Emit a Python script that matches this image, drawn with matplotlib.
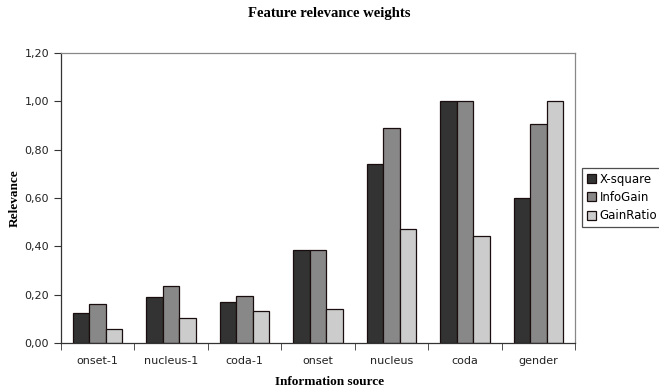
import matplotlib
matplotlib.use("Agg")
import matplotlib.pyplot as plt
import numpy as np
from matplotlib.ticker import FixedLocator, FuncFormatter

categories = ["onset-1", "nucleus-1", "coda-1", "onset", "nucleus", "coda", "gender"]
x_square = [0.125, 0.19, 0.171, 0.385, 0.739, 1.0, 0.599]
info_gain = [0.16, 0.237, 0.194, 0.385, 0.889, 1.0, 0.905]
gain_ratio = [0.058, 0.102, 0.132, 0.139, 0.473, 0.441, 1.0]
series_names = ["X-square", "InfoGain", "GainRatio"]
yticks = [0.0, 0.2, 0.4, 0.6, 0.8, 1.0, 1.2]

colors = ["#333333", "#888888", "#cccccc"]
edge = "#1a0d0d"

fig = plt.figure(figsize=(6.59, 3.92), dpi=100)
ax = fig.add_axes([61/659, 49/392, 514/659, 290/392])

x = np.arange(len(categories))
w = 0.225
handles = []
for i, (vals, c, name) in enumerate(zip([x_square, info_gain, gain_ratio], colors, series_names)):
    b = ax.bar(x + (i - 1) * w, vals, width=w, color=c, edgecolor=edge, linewidth=0.9, label=name)
    handles.append(b)

ax.set_xlim(-0.5, len(categories) - 0.5)
ax.set_ylim(0, 1.2)
ax.yaxis.set_major_locator(FixedLocator(yticks))
ax.yaxis.set_major_formatter(FuncFormatter(lambda v, p: f"{v:.2f}".replace(".", ",")))
ax.set_xticks(x)
ax.set_xticklabels(categories)
ax.set_xticks(np.arange(-0.5, len(categories), 1.0), minor=True)
ax.tick_params(axis="x", which="major", length=0, pad=9, labelsize=8, labelcolor="#222222")
ax.tick_params(axis="x", which="minor", length=5, direction="out", color="#333333")
ax.tick_params(axis="y", length=5, direction="out", labelsize=8, labelcolor="#222222", color="#333333")

for s in ["top", "right"]:
    ax.spines[s].set_color("#888888")
    ax.spines[s].set_linewidth(0.9)
for s in ["left", "bottom"]:
    ax.spines[s].set_color("#333333")
    ax.spines[s].set_linewidth(0.9)

serif = ["Liberation Serif", "DejaVu Serif"]
fig.text(0.5, 1 - 13/392, "Feature relevance weights", ha="center", va="center",
         family=serif, fontweight="bold", fontsize=10.5)
fig.text(0.5, 1 - 382/392, "Information source", ha="center", va="center",
         family=serif, fontweight="bold", fontsize=9.5)
fig.text(15/659, 1 - 198/392, "Relevance", ha="center", va="center", rotation=90,
         family=serif, fontweight="bold", fontsize=9.5)

leg = fig.legend(handles=handles, labels=series_names, loc="upper left",
                 bbox_to_anchor=(582/659, 1 - 168/392), fontsize=8.5,
                 frameon=True, fancybox=False, handlelength=0.8, handleheight=0.8,
                 handletextpad=0.3, borderpad=0.4, labelspacing=0.45, borderaxespad=0)
leg.get_frame().set_edgecolor("#222222")
leg.get_frame().set_linewidth(0.9)

fig.savefig("out.png", dpi=100)
